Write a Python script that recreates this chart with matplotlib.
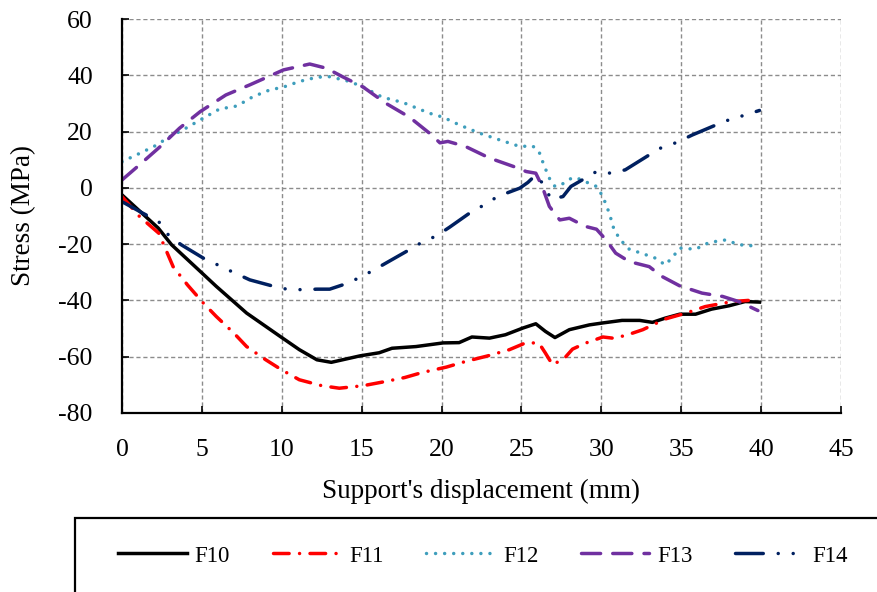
import matplotlib
matplotlib.use('Agg')
import matplotlib.pyplot as plt
from matplotlib.patches import Rectangle

plt.rcParams['font.family'] = 'Liberation Serif'
plt.rcParams['axes.unicode_minus'] = False

# F10 - solid black
x10 = [0, 2.27, 3.1, 4.9, 5.9, 7.8, 9.9, 11.1, 12.2, 13.1, 14.9, 16.1, 16.9, 18.4, 20.1,
       21.1, 21.9, 23.0, 24.0, 25.1, 25.9, 26.5, 27.1, 28.0, 29.25, 30.1, 31.3, 32.4,
       33.2, 34.0, 34.9, 35.9, 36.9, 38.0, 39.0, 39.9]
y10 = [-2.5, -14.3, -20.2, -29.7, -35, -44.5, -52.8, -57.5, -61.1, -62, -59.7, -58.6, -57,
       -56.4, -55.1, -55, -53, -53.4, -52.2, -49.8, -48.3, -51, -53.2, -50.4, -48.7, -48,
       -47.1, -47.1, -47.8, -46.3, -44.9, -44.9, -43.1, -41.9, -40.4, -40.6]

# F11 - red dash dot
x11 = [0, 1.1, 2.3, 3.2, 4.1, 5.1, 5.9, 7.0, 7.8, 9.0, 10.0, 11.1, 12.5, 13.6, 15.1, 16.5,
       17.7, 18.8, 20.3, 21.5, 22.9, 24.25, 25.3, 26.1, 26.5, 26.95, 27.7, 28.2, 29.0,
       30.1, 30.7, 31.5, 32.6, 34.0, 35.3, 36.5, 38.2, 39.2]
y11 = [-3.1, -10.2, -16.1, -28, -34.5, -41, -45.7, -51.6, -56.4, -61.1, -64.7, -68.2,
       -70.3, -71.2, -70.3, -68.8, -67.4, -65.6, -63.7, -61.7, -59.7, -57.5, -55, -55.2,
       -58.7, -62.9, -60.5, -57.3, -55.2, -53, -53.4, -52.5, -50.4, -46.6, -44.5, -42.2,
       -40.4, -40]

# F12 - teal dotted
x12 = [0, 0.9, 2.0, 3.0, 4.0, 5.1, 6.1, 7.2, 8.2, 9.25, 10.1, 11.1, 12.2, 13.0, 14.25,
       15.1, 16.3, 17.6, 19.25, 20.1, 21.1, 22.4, 23.6, 24.9, 25.7, 26.1, 26.4, 26.75,
       27.1, 27.5, 28.0, 28.4, 29.0, 29.7, 30.1, 30.5, 30.8, 31.2, 31.75, 32.6, 33.4,
       34.0, 34.5, 34.9, 35.9, 36.75, 37.8, 38.6, 39.9]
y12 = [9.3, 11.7, 14.7, 18.2, 21.2, 24.8, 28, 29.1, 32.4, 34.8, 35.8, 37.8, 39.3, 39.5,
       37.8, 35.8, 32.2, 30.3, 26.5, 25.1, 22.4, 19.4, 17.1, 14.7, 14.9, 12.9, 8.2, 3.4,
       0.5, 1.1, 3.1, 3.7, 2.2, 0.5, -3.1, -9, -14.9, -18.5, -21.8, -23.4, -25, -27.4,
       -24.4, -21.4, -21.8, -19.4, -18.5, -20.2, -20.8]

# F13 - purple dashed
x13 = [0, 1.1, 2.4, 3.6, 4.9, 6.5, 8.0, 10.1, 11.75, 12.8, 13.8, 15.1, 16.5, 18.0, 19.25,
       19.9, 20.4, 21.5, 23.0, 24.5, 25.3, 25.9, 26.3, 26.75, 27.4, 28.0, 29.0, 29.7,
       30.3, 30.9, 31.75, 33.0, 33.8, 34.9, 36.3, 37.6, 38.6, 39.8]
y13 = [2.8, 8.2, 14.7, 21.2, 27.1, 33, 36.6, 41.9, 44, 42.5, 39.5, 35.8, 30.1, 25.1, 19.4,
       16.0, 16.5, 14.7, 10.6, 7.6, 5.8, 5.2, 0.5, -6.6, -11.4, -10.8, -13.7, -14.7, -18.5,
       -23.2, -26.2, -28, -31.5, -34.8, -37.4, -38.6, -40.4, -43.6]

# F14 - navy long dash dot dot
x14 = [0, 1.3, 2.3, 2.9, 3.7, 5.1, 6.0, 6.85, 8.0, 9.5, 10.3, 11.3, 12.2, 13.0, 13.8, 14.8,
       15.6, 16.5, 17.8, 18.7, 19.7, 20.5, 21.9, 22.7, 23.5, 24.9, 25.4, 25.9, 26.4, 26.85,
       27.6, 28.1, 28.8, 29.7, 30.6, 31.5, 33.0, 33.7, 34.7, 35.7, 37.2, 38.0, 38.9, 39.9]
y14 = [-4.9, -9, -12, -16.7, -20.2, -25, -27.4, -29.7, -32.7, -35, -36, -36.2, -36, -36,
       -34.5, -32.1, -29.7, -26.8, -22.6, -19.6, -17, -14, -8.4, -6, -3.1, -0.1, 1.9, 4.6,
       1.1, -4, -3.1, 0.5, 2.8, 5.8, 5.2, 6.4, 11.7, 14.1, 16.1, 18.8, 22.4, 24.2, 25.7, 27.5]

fig = plt.figure(figsize=(8.77, 5.92), dpi=100)
ax = fig.add_axes([0.1391, 0.3024, 0.8198, 0.6655])

lw = 2.5
h10, = ax.plot(x10, y10, color='black', lw=lw, label='F10')
h11, = ax.plot(x11, y11, color='#FF0000', lw=lw, dashes=(4.5, 3, 0.01, 3),
               dash_capstyle='round', label='F11')
h12, = ax.plot(x12, y12, color='#3E9EBC', lw=lw, dashes=(0.01, 2.6),
               dash_capstyle='round', label='F12')
h13, = ax.plot(x13, y13, color='#7030A0', lw=lw, dashes=(5.5, 3.5),
               dash_capstyle='round', label='F13')
h14, = ax.plot(x14, y14, color='#002060', lw=lw, dashes=(8, 4.3, 0.01, 4.3, 0.01, 4.3),
               dash_capstyle='round', label='F14')

ax.set_xlim(0, 45)
ax.set_ylim(-80, 60)
ax.set_xticks(range(0, 46, 5))
ax.set_yticks(range(-80, 61, 20))
ax.grid(True, color='#8C8C8C', linestyle=(0, (3, 2)), linewidth=1)
ax.set_axisbelow(True)
for s in ['top', 'right']:
    ax.spines[s].set_visible(False)
for s in ['left', 'bottom']:
    ax.spines[s].set_linewidth(1.6)
ax.tick_params(direction='in', length=5, width=1.2, labelsize=18.5)
ax.tick_params(axis='y', pad=21)
ax.tick_params(axis='x', pad=18.5)
ax.set_xlabel("Support's displacement (mm)", fontsize=19.5, labelpad=13)
ax.set_ylabel('Stress (MPa)', fontsize=19.5, labelpad=16)

# legend box runs past the figure edge, like the source
fig.patches.append(Rectangle((75 / 877, -0.2), 1.0, 0.2 + (1 - 518 / 592),
                             transform=fig.transFigure, fill=False,
                             edgecolor='black', lw=1.6))
fig.legend(handles=[h10, h11, h12, h13, h14], loc='center left',
           bbox_to_anchor=(118 / 877, 1 - 556 / 592), ncol=5, frameon=False,
           fontsize=16.5, handlelength=3.0, handletextpad=0.35, columnspacing=1.85,
           borderpad=0, borderaxespad=0)

fig.savefig('out.png', dpi=100)
